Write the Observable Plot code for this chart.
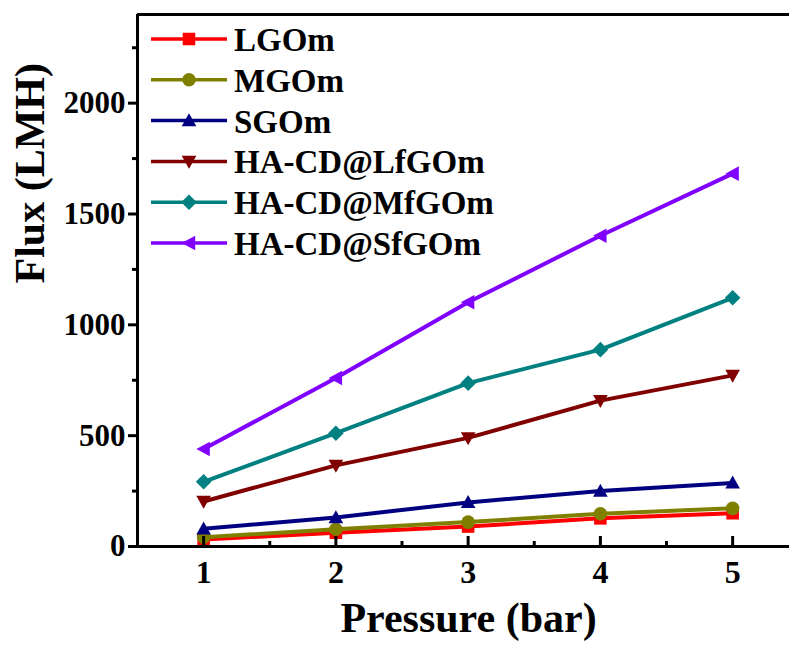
<!DOCTYPE html>
<html>
<head>
<meta charset="utf-8">
<script src="https://cdn.jsdelivr.net/npm/d3@7"></script>
<script src="https://cdn.jsdelivr.net/npm/@observablehq/plot@0.6"></script>
<style>
  html, body { margin: 0; padding: 0; background: #fff; }
  #wrap { position: relative; width: 789px; height: 653px; }
  #wrap svg.legend { position: absolute; left: 0; top: 0; pointer-events: none; }
</style>
</head>
<body>
<div id="wrap"></div>
<script>
// ---- data ----
const pressure = [1, 2, 3, 4, 5];
const seriesNames = ["LGOm", "MGOm", "SGOm", "HA-CD@LfGOm", "HA-CD@MfGOm", "HA-CD@SfGOm"];
const LGOm  = [32, 62, 90, 127, 150];
const MGOm  = [42, 78, 110, 148, 172];
const SGOm  = [80, 131, 199, 250, 287];
const LfGOm = [203, 366, 490, 658, 772];
const MfGOm = [292, 511, 737, 888, 1122];
const SfGOm = [440, 760, 1102, 1402, 1682];
const seriesValues = [LGOm, MGOm, SGOm, LfGOm, MfGOm, SfGOm];
const colors = ["#FF0000", "#808000", "#000080", "#800000", "#008080", "#8000FF"];
const yMajorTicks = [0, 500, 1000, 1500, 2000];
const yMinorTicks = [250, 750, 1250, 1750, 2250];
const xMajorTicks = [1, 2, 3, 4, 5];
const xMinorTicks = [1.5, 2.5, 3.5, 4.5];
const xTitle = "Pressure (bar)";
const yTitle = "Flux (LMH)";

const FONT = "Liberation Serif";

// ---- custom symbols ----
const R = s => Math.sqrt(s / Math.PI);
const symSquare = {draw(c, s) { const h = R(s) * 0.86; c.rect(-h, -h, 2 * h, 2 * h); }};
const symCircle = {draw(c, s) { const r = R(s) * 0.93; c.moveTo(r, 0); c.arc(0, 0, r, 0, 2 * Math.PI); }};
const symUp = {draw(c, s) { const r = R(s); c.moveTo(0, -r); c.lineTo(r, r * 0.78); c.lineTo(-r, r * 0.78); c.closePath(); }};
const symDown = {draw(c, s) { const r = R(s); c.moveTo(0, r); c.lineTo(r, -r * 0.78); c.lineTo(-r, -r * 0.78); c.closePath(); }};
const symDiamond = {draw(c, s) { const r = R(s) * 1.07; c.moveTo(0, -r); c.lineTo(r, 0); c.lineTo(0, r); c.lineTo(-r, 0); c.closePath(); }};
const symLeft = {draw(c, s) { const r = R(s); c.moveTo(-r, 0); c.lineTo(r * 0.85, -r); c.lineTo(r * 0.85, r); c.closePath(); }};
const symbols = [symSquare, symCircle, symUp, symDown, symDiamond, symLeft];

// tidy table
const table = [];
seriesNames.forEach((name, i) => {
  pressure.forEach((p, j) => table.push({series: name, idx: i, pressure: p, flux: seriesValues[i][j]}));
});

const seriesMarks = [];
seriesNames.forEach((name, i) => {
  const d = table.filter(r => r.idx === i);
  seriesMarks.push(Plot.line(d, {x: "pressure", y: "flux", stroke: colors[i], strokeWidth: 4}));
  seriesMarks.push(Plot.dot(d, {x: "pressure", y: "flux", symbol: symbols[i], fill: colors[i], r: 7.3, stroke: "none"}));
});

const txt = {fontFamily: FONT, fontWeight: "bold"};

const chart = Plot.plot({
  width: 789,
  height: 653,
  marginLeft: 137,
  marginRight: 0,
  marginTop: 14,
  marginBottom: 107,
  x: {domain: [0.5, 5.43]},
  y: {domain: [0, 2400]},
  style: "font-family: 'Liberation Serif', serif; font-weight: bold; font-size: 30px; color: #000; background: #fff; overflow: visible;",
  marks: [
    ...seriesMarks,
    Plot.axisY(yMajorTicks, {tickSize: 9, tickPadding: 3, strokeWidth: 3, tickFormat: d => String(d), label: null, fontSize: 31, ...txt}),
    Plot.axisY(yMinorTicks, {tickSize: 5, strokeWidth: 3, tickFormat: () => "", label: null}),
    Plot.axisX(xMajorTicks, {tickSize: -10, strokeWidth: 3, tickFormat: () => "", label: null}),
    Plot.axisX(xMinorTicks, {tickSize: -5, strokeWidth: 3, tickFormat: () => "", label: null}),
    Plot.axisX(xMajorTicks, {tickSize: 0, tickPadding: 14, tickFormat: d => String(d), label: null, fontSize: 32, ...txt}),
    Plot.ruleY([0], {stroke: "#000", strokeWidth: 3}),
    Plot.ruleY([2400], {stroke: "#000", strokeWidth: 3}),
    Plot.ruleX([0.5], {stroke: "#000", strokeWidth: 3}),
    Plot.text([xTitle], {text: d => d, frameAnchor: "bottom", dx: 5, dy: 85, fontSize: 42, ...txt}),
    Plot.text([yTitle], {text: d => d, frameAnchor: "left", dx: -107, dy: 3, rotate: -90, fontSize: 42, ...txt})
  ]
});

// make sure tick label sizes are applied as styles
d3.select(chart).selectAll('g[aria-label="y-axis tick label"] text').style("font-size", "31px").style("font-family", FONT).style("font-weight", "bold");
d3.select(chart).selectAll('g[aria-label="x-axis tick label"] text').style("font-size", "32px").style("font-family", FONT).style("font-weight", "bold");

const wrap = document.getElementById("wrap");
wrap.appendChild(chart);

// ---- legend overlay ----
const leg = d3.select(wrap).append("svg")
  .attr("class", "legend")
  .attr("width", 789).attr("height", 653);
const rowY0 = 39, rowStep = 40.8;
seriesNames.forEach((name, i) => {
  const cy = rowY0 + i * rowStep;
  const g = leg.append("g").attr("transform", `translate(0,${cy})`);
  g.append("line").attr("x1", 151).attr("x2", 227).attr("y1", 0).attr("y2", 0)
    .attr("stroke", colors[i]).attr("stroke-width", 3.5);
  g.append("path").attr("transform", "translate(189,0)")
    .attr("d", d3.symbol().type(symbols[i]).size(Math.PI * 7.3 * 7.3)())
    .attr("fill", colors[i]);
  g.append("text").attr("x", 234).attr("y", 12)
    .attr("font-family", FONT)
    .attr("font-weight", "bold").attr("font-size", 33)
    .attr("fill", "#000").text(name);
});
</script>
</body>
</html>
